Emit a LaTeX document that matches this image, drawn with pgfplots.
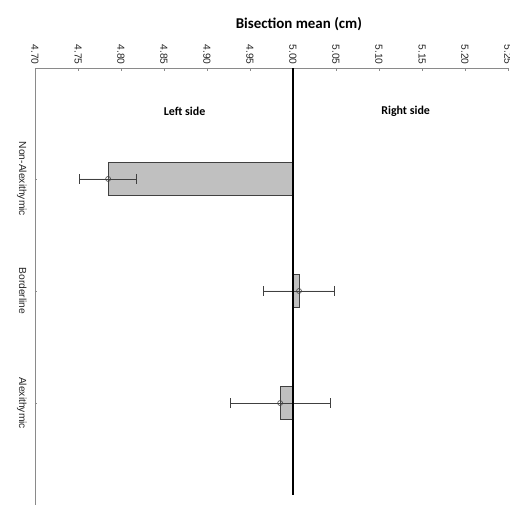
\documentclass[border=0pt]{standalone}
\usepackage{pgfplots}
\pgfplotsset{compat=1.18}
\usepackage{pgfplotstable}
\usepackage{fontspec}
\setmainfont{Liberation Sans}
\newfontfamily\calibri{Carlito}
\definecolor{barfill}{HTML}{C0C0C0}
\definecolor{baredge}{HTML}{404040}
\definecolor{axgray}{HTML}{8A8A8A}
\pgfplotstableread{
pos mean err
0 4.785 0.033
1 5.007 0.041
2 4.985 0.058
}\data
\begin{document}
\begin{tikzpicture}[x=1bp,y=1bp]
\begin{axis}[
  name=ax,
  scale only axis,
  width=473bp, height=437bp,
  xmin=-0.3, xmax=0.25,
  ymin=-0.99, ymax=2.91,
  y dir=reverse,
  axis x line*=top,
  axis y line*=left,
  axis line style={axgray, line width=0.8pt},
  xtick={-0.30,-0.25,-0.20,-0.15,-0.10,-0.05,0,0.05,0.10,0.15,0.20,0.25},
  xticklabels={4.70,4.75,4.80,4.85,4.90,4.95,5.00,5.05,5.10,5.15,5.20,5.25},
  ytick={0,1,2},
  yticklabels={Non-Alexithymic,Borderline,Alexithymic},
  xticklabel style={rotate=-90, anchor=east, font=\fontsize{10.3}{12}\selectfont, text=black!85},
  yticklabel style={xshift=-5bp, rotate=-90, anchor=north, font=\fontsize{10.3}{12}\selectfont, text=black!85},
  major tick length=2.5bp,
  tick style={axgray, line width=0.6pt},
  tick align=inside,
  /pgf/number format/assume math mode=true,
  clip=false,
]
\addplot[xbar, bar width=33bp, bar shift=0pt, fill=barfill, draw=baredge, line width=0.7pt,
  mark=o, mark size=2.5bp, mark options={draw=baredge, fill=barfill, line width=0.6pt},
  error bars/.cd, x dir=both, x explicit,
  error mark options={rotate=90, mark size=5bp, line width=0.7pt, draw=baredge},
  error bar style={line width=0.7pt, draw=baredge}]
  table[y=pos, x expr=\thisrow{mean}-5, x error=err] {\data};
\addplot[black, line width=2.2pt] coordinates {(0,-0.99) (0,2.82)};
\node[font=\calibri\bfseries\fontsize{12}{14}\selectfont] at (axis cs:-0.126,-0.607) {Left side};
\node[font=\calibri\bfseries\fontsize{12}{14}\selectfont] at (axis cs:0.131,-0.607) {Right side};
\node[font=\calibri\bfseries\fontsize{15}{17}\selectfont] at ([shift={(0bp,44bp)}]rel axis cs:0.558,1) {Bisection mean (cm)};
\end{axis}
\pgfresetboundingbox
\path ([shift={(-35bp,-1bp)}]ax.south west) rectangle ([shift={(2bp,68bp)}]ax.north east);
\end{tikzpicture}
\end{document}
